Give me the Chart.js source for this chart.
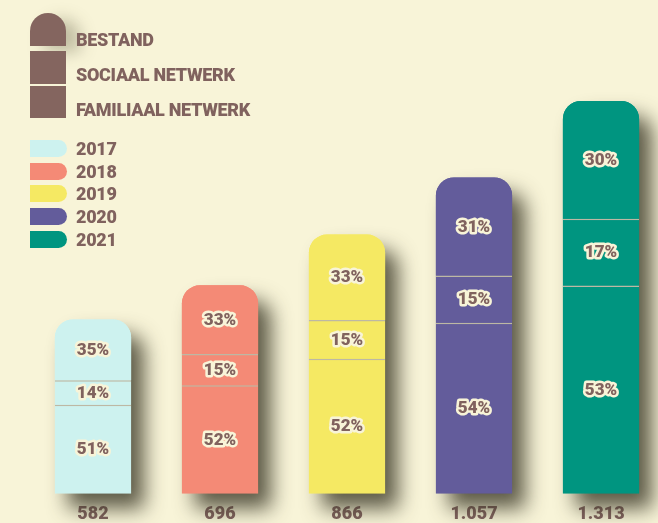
<!DOCTYPE html>
<html>
<head>
<meta charset="utf-8">
<script src="https://cdn.jsdelivr.net/npm/chart.js@4/dist/chart.umd.min.js"></script>
<style>
  html, body { margin: 0; padding: 0; background: #f8f4d8; overflow: hidden; }
  #wrap { position: relative; width: 672px; height: 535px; }
  canvas { position: absolute; left: 0; top: 0; }
  .lg { position: absolute; font-family: Roboto, "DejaVu Sans", sans-serif; font-weight: 900; color: #80625e; font-size: 18px; line-height: 20px; white-space: nowrap; letter-spacing: -0.3px; }
  .sw { position: absolute; }
</style>
</head>
<body>
<div id="wrap">
  <canvas id="c" width="672" height="535"></canvas>
  <div id="legend"></div>
</div>
<script>
// ---- data ----
const years = ['2017', '2018', '2019', '2020', '2021'];
const totals = [582, 696, 866, 1057, 1313];
const totalLabels = ['582', '696', '866', '1.057', '1.313'];
const pctFamiliaal = [51, 52, 52, 54, 53];
const pctSociaal = [14, 15, 15, 15, 17];
const pctBestand = [35, 33, 33, 31, 30];
const seriesNames = ['BESTAND', 'SOCIAAL NETWERK', 'FAMILIAAL NETWERK'];

// ---- styles ----
const yearColors = ['#cdf2ef', '#f48a76', '#f5e963', '#635c9b', '#009580'];
const brown = '#80625e';
const cream = '#f8f4d8';
const sepColor = '#bdb8a4';

const seg = p => totals.map((t, i) => t * p[i] / 100);

// ---- HTML legend ----
const lg = document.getElementById('legend');
const shapeTops = [13, 51, 86], shapeH = [33, 33, 32], textCenters = [40, 75, 110];
seriesNames.forEach((n, i) => {
  const s = document.createElement('div');
  s.className = 'sw';
  s.style.cssText = `left:30px;top:${shapeTops[i]}px;width:36px;height:${shapeH[i]}px;background:#84655f;` +
    (i === 0 ? 'border-radius:18px 18px 0 0;box-shadow:14px 6px 16px rgba(90,85,60,0.35);' : '');
  lg.appendChild(s);
  const t = document.createElement('div');
  t.className = 'lg';
  t.style.left = '76px';
  t.style.top = (textCenters[i] - 9.7) + 'px';
  t.textContent = n;
  lg.appendChild(t);
});
const pillTops = [140, 163, 185, 208, 231];
years.forEach((y, i) => {
  const s = document.createElement('div');
  s.className = 'sw';
  s.style.cssText = `left:30px;top:${pillTops[i]}px;width:37px;height:17px;background:${yearColors[i]};border-radius:0 8.5px 8.5px 0;`;
  lg.appendChild(s);
  const t = document.createElement('div');
  t.className = 'lg';
  t.style.left = '76px';
  t.style.top = (pillTops[i] + 9 - 9.7) + 'px';
  t.textContent = y;
  lg.appendChild(t);
});

// ---- plugins ----
const shadowPlugin = {
  id: 'stackShadow',
  beforeDatasetsDraw(chart) {
    const ctx = chart.ctx;
    const top = chart.getDatasetMeta(chart.data.datasets.length - 1).data;
    const bot = chart.getDatasetMeta(0).data;
    ctx.save();
    ctx.shadowColor = 'rgba(55,52,35,0.8)';
    ctx.shadowBlur = 20;
    ctx.shadowOffsetX = 13;
    ctx.shadowOffsetY = 15;
    top.forEach((el, i) => {
      const p = el.getProps(['x', 'y', 'width'], true);
      const base = bot[i].getProps(['base'], true).base;
      const x0 = p.x - p.width / 2;
      ctx.fillStyle = yearColors[i];
      ctx.beginPath();
      ctx.roundRect(x0, p.y, p.width, base - p.y, [18, 18, 0, 0]);
      ctx.fill();
    });
    ctx.restore();
  }
};
const pctSets = [pctFamiliaal, pctSociaal, pctBestand];
const labelPlugin = {
  id: 'segLabels',
  afterDatasetsDraw(chart) {
    const ctx = chart.ctx;
    ctx.save();
    ctx.font = '900 17px Roboto, "DejaVu Sans", sans-serif';
    ctx.textAlign = 'center';
    ctx.textBaseline = 'middle';
    ctx.lineJoin = 'round';
    ctx.lineWidth = 5;
    chart.data.datasets.forEach((ds, di) => {
      chart.getDatasetMeta(di).data.forEach((el, i) => {
        const p = el.getProps(['x', 'y', 'base'], true);
        const cy = (p.y + p.base) / 2 + 1;
        const txt = pctSets[di][i] + '%';
        ctx.strokeStyle = cream;
        ctx.strokeText(txt, p.x, cy);
        ctx.fillStyle = brown;
        ctx.fillText(txt, p.x, cy);
      });
    });
    ctx.restore();
  }
};

// ---- chart ----
const topRadius = { topLeft: 18, topRight: 18, bottomLeft: 0, bottomRight: 0 };
const common = { backgroundColor: yearColors, categoryPercentage: 1, barPercentage: 0.6 };
new Chart(document.getElementById('c'), {
  type: 'bar',
  data: {
    labels: years,
    datasets: [
      { ...common, label: seriesNames[2], data: seg(pctFamiliaal), borderColor: sepColor, borderWidth: { top: 1.5, left: 0, right: 0, bottom: 0 }, borderSkipped: 'start', borderRadius: 0 },
      { ...common, label: seriesNames[1], data: seg(pctSociaal), borderColor: sepColor, borderWidth: { top: 1.5, left: 0, right: 0, bottom: 0 }, borderSkipped: 'start', borderRadius: 0 },
      { ...common, label: seriesNames[0], data: seg(pctBestand), borderWidth: 0, borderRadius: topRadius }
    ]
  },
  options: {
    responsive: false,
    animation: false,
    devicePixelRatio: 1,
    layout: { padding: { left: 29.5, right: 7.5, top: 45, bottom: 0 } },
    plugins: { legend: { display: false }, tooltip: { enabled: false } },
    scales: {
      x: {
        stacked: true,
        grid: { display: false, drawTicks: false },
        border: { display: false },
        ticks: {
          padding: 10,
          color: brown,
          font: { family: 'Roboto, "DejaVu Sans", sans-serif', size: 18, weight: '900' },
          callback: (v, i) => totalLabels[i]
        }
      },
      y: { stacked: true, display: false, min: 0, max: 1500 }
    }
  },
  plugins: [shadowPlugin, labelPlugin]
});
</script>
</body>
</html>
